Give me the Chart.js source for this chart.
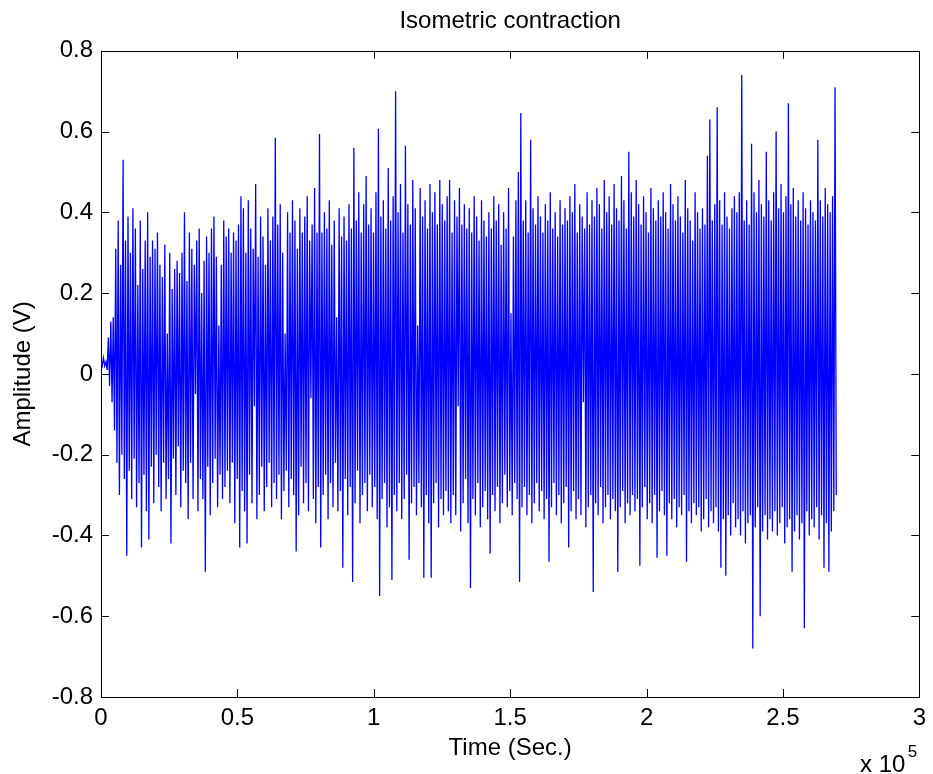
<!DOCTYPE html>
<html>
<head>
<meta charset="utf-8">
<script src="https://cdn.jsdelivr.net/npm/chart.js@4.4.0/dist/chart.umd.min.js"></script>
<style>
  html, body { margin: 0; padding: 0; background: #fff; }
  #wrap { width: 933px; height: 774px; }
</style>
</head>
<body>
<div id="wrap"><canvas id="emg"></canvas></div>
<script>
// Isometric contraction EMG trace (V)
const sampleStep = 450; // time units between samples
const amplitude = [
  0.03, 0.02, 0.04, 0.02, 0.03, 0.01, 0.09, -0.03, 0.13, -0.07, 0.14, -0.14, 0.31, -0.22, 0.38, -0.3, 0.27, -0.2, 0.53, -0.26,
  0.33, -0.45, 0.39, -0.24, 0.3, -0.31, 0.41, -0.21, 0.36, -0.33, 0.22, -0.27, 0.38, -0.43, 0.26, -0.25, 0.33, -0.34, 0.4, -0.41,
  0.29, -0.23, 0.33, -0.32, 0.31, -0.2, 0.35, -0.28, 0.27, -0.34, 0.24, -0.22, 0.32, -0.31, 0.1, -0.26, 0.3, -0.42, 0.21, -0.21,
  0.26, -0.3, 0.28, -0.18, 0.25, -0.33, 0.3, -0.24, 0.4, -0.27, 0.23, -0.36, 0.35, -0.22, 0.31, -0.31, 0.27, -0.05, 0.33, -0.34,
  0.36, -0.26, 0.2, -0.31, 0.28, -0.49, 0.34, -0.23, 0.3, -0.35, 0.36, -0.27, 0.39, -0.21, 0.29, -0.33, 0.12, -0.25, 0.27, -0.31,
  0.38, -0.28, 0.34, -0.24, 0.36, -0.32, 0.3, -0.22, 0.35, -0.37, 0.33, -0.26, 0.37, -0.43, 0.44, -0.29, 0.41, -0.34, 0.3, -0.42,
  0.43, -0.25, 0.36, -0.32, 0.31, -0.08, 0.47, -0.36, 0.29, -0.3, 0.39, -0.23, 0.34, -0.34, 0.27, -0.28, 0.41, -0.22, 0.33, -0.33,
  0.39, -0.27, 0.585, -0.31, 0.37, -0.25, 0.42, -0.36, 0.3, -0.29, 0.1, -0.24, 0.4, -0.33, 0.35, -0.26, 0.43, -0.3, 0.38, -0.44,
  0.31, -0.35, 0.41, -0.23, 0.35, -0.32, 0.39, -0.27, 0.44, -0.34, 0.33, -0.06, 0.37, -0.31, 0.46, -0.37, 0.35, -0.28, 0.594, -0.43,
  0.35, -0.3, 0.4, -0.25, 0.36, -0.36, 0.43, -0.27, 0.32, -0.33, 0.38, -0.22, 0.14, -0.34, 0.41, -0.29, 0.34, -0.48, 0.39, -0.26,
  0.33, -0.35, 0.42, -0.28, 0.36, -0.515, 0.56, -0.32, 0.38, -0.24, 0.45, -0.37, 0.35, -0.3, 0.42, -0.27, 0.49, -0.34, 0.37, -0.25,
  0.41, -0.33, 0.35, -0.28, 0.45, -0.36, 0.607, -0.55, 0.39, -0.31, 0.43, -0.27, 0.36, -0.38, 0.51, -0.33, 0.38, -0.51, 0.44, -0.3,
  0.7, -0.34, 0.4, -0.27, 0.47, -0.36, 0.35, -0.31, 0.565, -0.25, 0.42, -0.46, 0.37, -0.32, 0.48, -0.28, 0.41, -0.35, 0.12, -0.27,
  0.46, -0.33, 0.39, -0.505, 0.43, -0.3, 0.36, -0.37, 0.47, -0.505, 0.4, -0.32, 0.45, -0.27, 0.37, -0.38, 0.48, -0.31, 0.42, -0.35,
  0.38, -0.29, 0.44, -0.34, 0.48, -0.37, 0.35, -0.3, 0.43, -0.35, 0.39, -0.08, 0.46, -0.39, 0.37, -0.32, 0.42, -0.26, 0.36, -0.37,
  0.41, -0.53, 0.35, -0.31, 0.44, -0.35, 0.39, -0.27, 0.33, -0.38, 0.43, -0.33, 0.38, -0.29, 0.34, -0.36, 0.4, -0.445, 0.36, -0.3,
  0.44, -0.34, 0.38, -0.28, 0.42, -0.37, 0.32, -0.32, 0.4, -0.25, 0.36, -0.33, 0.46, -0.29, 0.15, -0.35, 0.34, -0.27, 0.43, -0.31,
  0.5, -0.515, 0.646, -0.33, 0.38, -0.28, 0.43, -0.35, 0.35, -0.3, 0.58, -0.37, 0.41, -0.32, 0.37, -0.27, 0.44, -0.34, 0.39, -0.29,
  0.35, -0.36, 0.42, -0.31, 0.38, -0.465, 0.45, -0.33, 0.36, -0.27, 0.4, -0.35, 0.34, -0.3, 0.43, -0.37, 0.37, -0.32, 0.41, -0.28,
  0.38, -0.43, 0.44, -0.34, 0.4, -0.29, 0.47, -0.36, 0.35, -0.31, 0.42, -0.35, 0.39, -0.07, 0.36, -0.38, 0.45, -0.33, 0.37, -0.3,
  0.43, -0.54, 0.39, -0.32, 0.46, -0.35, 0.42, -0.28, 0.36, -0.37, 0.48, -0.33, 0.4, -0.3, 0.44, -0.36, 0.37, -0.31, 0.47, -0.34,
  0.41, -0.49, 0.38, -0.33, 0.49, -0.29, 0.43, -0.37, 0.36, -0.32, 0.55, -0.35, 0.45, -0.3, 0.39, -0.34, 0.48, -0.31, 0.42, -0.475,
  0.37, -0.33, 0.44, -0.28, 0.4, -0.36, 0.35, -0.32, 0.46, -0.37, 0.41, -0.3, 0.38, -0.455, 0.43, -0.34, 0.39, -0.29, 0.45, -0.35,
  0.4, -0.45, 0.36, -0.32, 0.47, -0.36, 0.42, -0.31, 0.38, -0.38, 0.44, -0.33, 0.39, -0.35, 0.35, -0.3, 0.48, -0.465, 0.41, -0.34,
  0.38, -0.37, 0.33, -0.32, 0.45, -0.35, 0.4, -0.33, 0.36, -0.39, 0.41, -0.36, 0.37, -0.31, 0.54, -0.38, 0.63, -0.34, 0.38, -0.37,
  0.42, -0.33, 0.66, -0.39, 0.43, -0.48, 0.37, -0.36, 0.45, -0.5, 0.39, -0.35, 0.36, -0.4, 0.41, -0.32, 0.44, -0.38, 0.4, -0.36,
  0.45, -0.4, 0.74, -0.34, 0.38, -0.42, 0.43, -0.37, 0.37, -0.35, 0.57, -0.68, 0.45, -0.38, 0.4, -0.33, 0.48, -0.6, 0.42, -0.39,
  0.39, -0.35, 0.55, -0.41, 0.43, -0.36, 0.38, -0.39, 0.45, -0.34, 0.6, -0.4, 0.41, -0.37, 0.47, -0.33, 0.4, -0.42, 0.44, -0.38,
  0.67, -0.36, 0.42, -0.49, 0.46, -0.39, 0.39, -0.35, 0.43, -0.41, 0.38, -0.37, 0.45, -0.63, 0.41, -0.34, 0.37, -0.4, 0.43, -0.36,
  0.4, -0.38, 0.38, -0.33, 0.58, -0.41, 0.43, -0.35, 0.39, -0.48, 0.46, -0.37, 0.42, -0.49, 0.4, -0.39, 0.44, -0.34, 0.71, -0.3
];
const xTicks = [0, 50000, 100000, 150000, 200000, 250000, 300000];
const yTicks = [-0.8, -0.6, -0.4, -0.2, 0, 0.2, 0.4, 0.6, 0.8];

const FONT = '"Liberation Sans", Arial, Helvetica, sans-serif';
const FS = 24;
const points = amplitude.map((v, i) => ({ x: i * sampleStep, y: v }));

// MATLAB style box with inward ticks on every side, plus the x10^5 exponent
const boxPlugin = {
  id: 'box',
  beforeDatasetsDraw(chart) {
    const { ctx, chartArea: a, scales } = chart;
    const len = 8;
    ctx.save();
    ctx.strokeStyle = '#000';
    ctx.lineWidth = 1;
    ctx.beginPath();
    xTicks.forEach(t => {
      const px = Math.round(scales.x.getPixelForValue(t)) + 0.5;
      ctx.moveTo(px, a.bottom); ctx.lineTo(px, a.bottom - len);
      ctx.moveTo(px, a.top); ctx.lineTo(px, a.top + len);
    });
    yTicks.forEach(t => {
      const py = Math.round(scales.y.getPixelForValue(t)) + 0.5;
      ctx.moveTo(a.left, py); ctx.lineTo(a.left + len, py);
      ctx.moveTo(a.right, py); ctx.lineTo(a.right - len, py);
    });
    ctx.stroke();
    ctx.strokeRect(Math.round(a.left) + 0.5, Math.round(a.top) + 0.5,
      Math.round(a.right - a.left), Math.round(a.bottom - a.top));
    ctx.restore();
  },
  afterDraw(chart) {
    const { ctx, chartArea: a } = chart;
    ctx.save();
    ctx.fillStyle = '#000';
    ctx.textAlign = 'right';
    ctx.textBaseline = 'middle';
    ctx.font = FS + 'px ' + FONT;
    ctx.fillText('x 10', a.right - 14, 765);
    ctx.font = '17px ' + FONT;
    ctx.fillText('5', a.right - 2, 752);
    ctx.restore();
  }
};

new Chart(document.getElementById('emg'), {
  type: 'line',
  data: {
    datasets: [{
      data: points,
      borderColor: '#0000ff',
      borderWidth: 1.3,
      pointRadius: 0,
      tension: 0,
      fill: false
    }]
  },
  options: {
    responsive: true,
    maintainAspectRatio: false,
    animation: false,
    parsing: false,
    normalized: true,
    layout: { padding: { left: 0, right: 12, top: 0, bottom: 0 } },
    plugins: {
      legend: { display: false },
      tooltip: { enabled: false },
      title: {
        display: true,
        fullSize: false,
        text: 'Isometric contraction',
        color: '#000',
        font: { family: FONT, size: FS, weight: 'normal' },
        padding: { top: 7, bottom: 15 }
      }
    },
    scales: {
      x: {
        type: 'linear',
        min: 0,
        max: 300000,
        afterFit: s => { s.height = 77; },
        afterBuildTicks: s => { s.ticks = xTicks.map(v => ({ value: v })); },
        grid: { display: false, drawTicks: false },
        border: { display: false },
        ticks: {
          color: '#000',
          padding: 7,
          maxRotation: 0,
          font: { family: FONT, size: FS },
          callback: v => String(+(v / 100000).toFixed(1))
        },
        title: {
          display: true,
          text: 'Time (Sec.)',
          color: '#000',
          font: { family: FONT, size: FS },
          padding: { top: 0, bottom: 11 }
        }
      },
      y: {
        min: -0.8,
        max: 0.8,
        afterFit: s => { s.width = 101; },
        afterBuildTicks: s => { s.ticks = yTicks.map(v => ({ value: v })); },
        grid: { display: false, drawTicks: false },
        border: { display: false },
        ticks: {
          color: '#000',
          padding: 8,
          font: { family: FONT, size: FS },
          callback: v => String(+v.toFixed(1))
        },
        title: {
          display: true,
          text: 'Amplitude (V)',
          color: '#000',
          font: { family: FONT, size: FS },
          padding: { top: 9, bottom: 0 }
        }
      }
    }
  },
  plugins: [boxPlugin]
});
</script>
</body>
</html>
